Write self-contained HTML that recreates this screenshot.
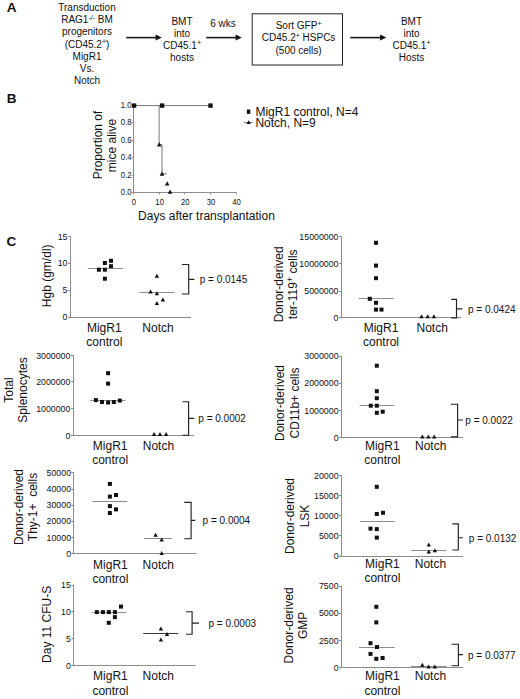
<!DOCTYPE html>
<html><head><meta charset="utf-8"><title>Figure</title>
<style>
html,body{margin:0;padding:0;background:#fff;}
body{width:520px;height:699px;overflow:hidden;}
svg{display:block;font-family:"Liberation Sans",sans-serif;}
svg text{fill:#111;}
</style></head>
<body>
<svg width="520" height="699" viewBox="0 0 520 699">
<rect width="520" height="699" fill="#fff"/>
<text x="6.80" y="12.20" font-size="13.5" text-anchor="start" font-weight="bold" >A</text>
<text x="87.00" y="11.20" font-size="10" text-anchor="middle" font-weight="normal" >Transduction</text>
<text x="87.00" y="23.30" font-size="10" text-anchor="middle" font-weight="normal" >RAG1<tspan font-size="7" dy="-3.6">-/-</tspan><tspan dy="3.6"> BM</tspan></text>
<text x="87.00" y="35.40" font-size="10" text-anchor="middle" font-weight="normal" >progenitors</text>
<text x="87.00" y="47.50" font-size="10" text-anchor="middle" font-weight="normal" >(CD45.2<tspan font-size="7" dy="-3.6">+</tspan><tspan dy="3.6">)</tspan></text>
<text x="87.00" y="59.60" font-size="10" text-anchor="middle" font-weight="normal" >MigR1</text>
<text x="87.00" y="71.70" font-size="10" text-anchor="middle" font-weight="normal" >Vs.</text>
<text x="87.00" y="83.80" font-size="10" text-anchor="middle" font-weight="normal" >Notch</text>
<line x1="126.30" y1="37.60" x2="156.80" y2="37.60" stroke="#1a1a1a" stroke-width="1.6"/>
<path d="M155.60 34.60 L161.80 37.60 L155.60 40.60 Z" fill="#111"/>
<text x="182.00" y="24.60" font-size="10" text-anchor="middle" font-weight="normal" >BMT</text>
<text x="182.00" y="36.60" font-size="10" text-anchor="middle" font-weight="normal" >into</text>
<text x="182.00" y="48.60" font-size="10" text-anchor="middle" font-weight="normal" >CD45.1<tspan font-size="7" dy="-3.6">+</tspan></text>
<text x="182.00" y="60.60" font-size="10" text-anchor="middle" font-weight="normal" >hosts</text>
<text x="223.00" y="27.00" font-size="10" text-anchor="middle" font-weight="normal" >6 wks</text>
<line x1="206.30" y1="37.60" x2="236.80" y2="37.60" stroke="#1a1a1a" stroke-width="1.6"/>
<path d="M235.60 34.60 L241.80 37.60 L235.60 40.60 Z" fill="#111"/>
<rect x="252.2" y="13.8" width="90.3" height="51.2" fill="none" stroke="#222" stroke-width="1"/>
<text x="298.60" y="29.30" font-size="10" text-anchor="middle" font-weight="normal" >Sort GFP<tspan font-size="7" dy="-3.6">+</tspan></text>
<text x="298.60" y="41.40" font-size="10" text-anchor="middle" font-weight="normal" >CD45.2<tspan font-size="7" dy="-3.6">+</tspan><tspan dy="3.6"> HSPCs</tspan></text>
<text x="298.60" y="53.50" font-size="10" text-anchor="middle" font-weight="normal" >(500 cells)</text>
<line x1="350.30" y1="37.60" x2="381.30" y2="37.60" stroke="#1a1a1a" stroke-width="1.6"/>
<path d="M380.10 34.60 L386.30 37.60 L380.10 40.60 Z" fill="#111"/>
<text x="411.50" y="24.60" font-size="10" text-anchor="middle" font-weight="normal" >BMT</text>
<text x="411.50" y="36.60" font-size="10" text-anchor="middle" font-weight="normal" >into</text>
<text x="411.50" y="48.60" font-size="10" text-anchor="middle" font-weight="normal" >CD45.1<tspan font-size="7" dy="-3.6">+</tspan></text>
<text x="411.50" y="60.60" font-size="10" text-anchor="middle" font-weight="normal" >Hosts</text>
<text x="6.80" y="103.20" font-size="13.5" text-anchor="start" font-weight="bold" >B</text>
<line x1="133.50" y1="105.10" x2="133.50" y2="192.90" stroke="#8c8c8c" stroke-width="1"/>
<line x1="133.10" y1="192.50" x2="236.20" y2="192.50" stroke="#8c8c8c" stroke-width="1"/>
<line x1="131.60" y1="192.50" x2="133.60" y2="192.50" stroke="#8c8c8c" stroke-width="1"/>
<text transform="translate(131.60 194.90) scale(0.83 1)" font-size="9.3" text-anchor="end">0.0</text>
<line x1="131.60" y1="175.50" x2="133.60" y2="175.50" stroke="#8c8c8c" stroke-width="1"/>
<text transform="translate(131.60 177.54) scale(0.83 1)" font-size="9.3" text-anchor="end">0.2</text>
<line x1="131.60" y1="157.50" x2="133.60" y2="157.50" stroke="#8c8c8c" stroke-width="1"/>
<text transform="translate(131.60 160.18) scale(0.83 1)" font-size="9.3" text-anchor="end">0.4</text>
<line x1="131.60" y1="140.50" x2="133.60" y2="140.50" stroke="#8c8c8c" stroke-width="1"/>
<text transform="translate(131.60 142.82) scale(0.83 1)" font-size="9.3" text-anchor="end">0.6</text>
<line x1="131.60" y1="122.50" x2="133.60" y2="122.50" stroke="#8c8c8c" stroke-width="1"/>
<text transform="translate(131.60 125.46) scale(0.83 1)" font-size="9.3" text-anchor="end">0.8</text>
<line x1="131.60" y1="105.50" x2="133.60" y2="105.50" stroke="#8c8c8c" stroke-width="1"/>
<text transform="translate(131.60 108.10) scale(0.83 1)" font-size="9.3" text-anchor="end">1.0</text>
<line x1="133.50" y1="192.40" x2="133.50" y2="194.40" stroke="#8c8c8c" stroke-width="1"/>
<text transform="translate(134.00 204.80) scale(0.83 1)" font-size="9.3" text-anchor="middle">0</text>
<line x1="159.50" y1="192.40" x2="159.50" y2="194.40" stroke="#8c8c8c" stroke-width="1"/>
<text transform="translate(159.65 204.80) scale(0.83 1)" font-size="9.3" text-anchor="middle">10</text>
<line x1="184.50" y1="192.40" x2="184.50" y2="194.40" stroke="#8c8c8c" stroke-width="1"/>
<text transform="translate(185.30 204.80) scale(0.83 1)" font-size="9.3" text-anchor="middle">20</text>
<line x1="210.50" y1="192.40" x2="210.50" y2="194.40" stroke="#8c8c8c" stroke-width="1"/>
<text transform="translate(210.95 204.80) scale(0.83 1)" font-size="9.3" text-anchor="middle">30</text>
<line x1="236.50" y1="192.40" x2="236.50" y2="194.40" stroke="#8c8c8c" stroke-width="1"/>
<text transform="translate(236.60 204.80) scale(0.83 1)" font-size="9.3" text-anchor="middle">40</text>
<text x="138.10" y="219.70" font-size="12" text-anchor="start" font-weight="normal" >Days after transplantation</text>
<text transform="translate(102.0 145.0) rotate(-90)" font-size="12" text-anchor="middle">Proportion of</text>
<text transform="translate(116.4 145.5) rotate(-90)" font-size="12" text-anchor="middle">mice alive</text>
<path d="M133.6 105.60 H210.55" stroke="#777" stroke-width="1" fill="none"/>
<path d="M159.1 105.60 V144.5 H162.0 V173.8 H167.0" stroke="#777" stroke-width="1" fill="none"/>
<rect x="131.90" y="103.40" width="4.4" height="4.4" fill="#111"/>
<rect x="159.90" y="103.40" width="4.4" height="4.4" fill="#111"/>
<rect x="208.30" y="103.40" width="4.4" height="4.4" fill="#111"/>
<path d="M156.90 146.40 L159.20 142.20 L161.50 146.40 Z" fill="#111"/>
<path d="M159.70 175.70 L162.00 171.50 L164.30 175.70 Z" fill="#111"/>
<path d="M164.90 185.40 L167.20 181.20 L169.50 185.40 Z" fill="#111"/>
<path d="M167.70 193.70 L170.00 189.50 L172.30 193.70 Z" fill="#111"/>
<rect x="246.9" y="109.5" width="3.4" height="4.4" fill="#111"/>
<text x="255.40" y="115.50" font-size="12" text-anchor="start" font-weight="normal" >MigR1 control, N=4</text>
<line x1="243.80" y1="122.50" x2="252.60" y2="122.50" stroke="#777" stroke-width="1"/>
<path d="M246.50 124.10 L248.60 120.30 L250.70 124.10 Z" fill="#111"/>
<text x="255.40" y="126.60" font-size="12" text-anchor="start" font-weight="normal" >Notch, N=9</text>
<text x="6.50" y="245.70" font-size="13.5" text-anchor="start" font-weight="bold" >C</text>
<line x1="70.50" y1="236.00" x2="70.50" y2="317.70" stroke="#8c8c8c" stroke-width="1"/>
<line x1="69.70" y1="317.50" x2="191.00" y2="317.50" stroke="#8c8c8c" stroke-width="1"/>
<line x1="68.00" y1="317.50" x2="70.20" y2="317.50" stroke="#8c8c8c" stroke-width="1"/>
<text x="67.50" y="320.30" font-size="8.8" text-anchor="end" font-weight="normal" >0</text>
<line x1="68.00" y1="290.50" x2="70.20" y2="290.50" stroke="#8c8c8c" stroke-width="1"/>
<text x="67.50" y="293.20" font-size="8.8" text-anchor="end" font-weight="normal" >5</text>
<line x1="68.00" y1="263.50" x2="70.20" y2="263.50" stroke="#8c8c8c" stroke-width="1"/>
<text x="67.50" y="266.30" font-size="8.8" text-anchor="end" font-weight="normal" >10</text>
<line x1="68.00" y1="236.50" x2="70.20" y2="236.50" stroke="#8c8c8c" stroke-width="1"/>
<text x="67.50" y="239.60" font-size="8.8" text-anchor="end" font-weight="normal" >15</text>
<text transform="translate(51.00 275.80) rotate(-90)" font-size="12" text-anchor="middle">Hgb (gm/dl)</text>
<line x1="87.90" y1="268.50" x2="123.00" y2="268.50" stroke="#8c8c8c" stroke-width="1"/>
<line x1="139.30" y1="292.50" x2="174.20" y2="292.50" stroke="#8c8c8c" stroke-width="1"/>
<rect x="96.90" y="267.70" width="4.0" height="4.0" fill="#111"/>
<rect x="102.90" y="261.00" width="4.0" height="4.0" fill="#111"/>
<rect x="102.90" y="267.70" width="4.0" height="4.0" fill="#111"/>
<rect x="109.00" y="258.80" width="4.0" height="4.0" fill="#111"/>
<rect x="109.00" y="264.20" width="4.0" height="4.0" fill="#111"/>
<rect x="102.90" y="276.70" width="4.0" height="4.0" fill="#111"/>
<path d="M154.70 277.80 L156.90 273.80 L159.10 277.80 Z" fill="#111"/>
<path d="M148.40 293.40 L150.60 289.40 L152.80 293.40 Z" fill="#111"/>
<path d="M154.70 295.30 L156.90 291.30 L159.10 295.30 Z" fill="#111"/>
<path d="M160.70 301.50 L162.90 297.50 L165.10 301.50 Z" fill="#111"/>
<path d="M154.70 304.90 L156.90 300.90 L159.10 304.90 Z" fill="#111"/>
<path d="M181.90 264.50 H188.70 V294.00 H181.90 M188.70 279.30 H194.40" stroke="#222" stroke-width="1.15" fill="none"/>
<text x="199.70" y="283.30" font-size="10" text-anchor="start" font-weight="normal" >p = 0.0145</text>
<text x="104.30" y="332.00" font-size="12" text-anchor="middle" font-weight="normal" >MigR1</text>
<text x="104.30" y="346.30" font-size="12" text-anchor="middle" font-weight="normal" >control</text>
<text x="158.00" y="332.00" font-size="12" text-anchor="middle" font-weight="normal" >Notch</text>
<line x1="73.50" y1="355.00" x2="73.50" y2="436.10" stroke="#8c8c8c" stroke-width="1"/>
<line x1="72.60" y1="435.50" x2="194.20" y2="435.50" stroke="#8c8c8c" stroke-width="1"/>
<line x1="70.90" y1="435.50" x2="73.10" y2="435.50" stroke="#8c8c8c" stroke-width="1"/>
<text x="70.40" y="438.70" font-size="8.8" text-anchor="end" font-weight="normal" >0</text>
<line x1="70.90" y1="408.50" x2="73.10" y2="408.50" stroke="#8c8c8c" stroke-width="1"/>
<text x="70.40" y="411.50" font-size="8.8" text-anchor="end" font-weight="normal" >1000000</text>
<line x1="70.90" y1="381.50" x2="73.10" y2="381.50" stroke="#8c8c8c" stroke-width="1"/>
<text x="70.40" y="385.00" font-size="8.8" text-anchor="end" font-weight="normal" >2000000</text>
<line x1="70.90" y1="355.50" x2="73.10" y2="355.50" stroke="#8c8c8c" stroke-width="1"/>
<text x="70.40" y="358.60" font-size="8.8" text-anchor="end" font-weight="normal" >3000000</text>
<text transform="translate(13.10 390.00) rotate(-90)" font-size="12" text-anchor="middle">Total</text>
<text transform="translate(26.90 390.00) rotate(-90)" font-size="12" text-anchor="middle">Splenocytes</text>
<line x1="90.30" y1="400.50" x2="125.40" y2="400.50" stroke="#8c8c8c" stroke-width="1"/>
<line x1="142.40" y1="435.50" x2="178.00" y2="435.50" stroke="#8c8c8c" stroke-width="1"/>
<rect x="106.10" y="371.20" width="4.0" height="4.0" fill="#111"/>
<rect x="106.10" y="381.60" width="4.0" height="4.0" fill="#111"/>
<rect x="93.90" y="398.10" width="4.0" height="4.0" fill="#111"/>
<rect x="100.00" y="400.00" width="4.0" height="4.0" fill="#111"/>
<rect x="106.10" y="400.50" width="4.0" height="4.0" fill="#111"/>
<rect x="111.80" y="400.00" width="4.0" height="4.0" fill="#111"/>
<rect x="117.80" y="398.60" width="4.0" height="4.0" fill="#111"/>
<path d="M151.90 436.00 L154.10 432.00 L156.30 436.00 Z" fill="#111"/>
<path d="M157.80 436.00 L160.00 432.00 L162.20 436.00 Z" fill="#111"/>
<path d="M163.90 436.00 L166.10 432.00 L168.30 436.00 Z" fill="#111"/>
<path d="M182.40 401.70 H188.60 V435.20 H182.40 M188.60 418.30 H194.20" stroke="#222" stroke-width="1.15" fill="none"/>
<text x="198.30" y="422.30" font-size="10" text-anchor="start" font-weight="normal" >p = 0.0002</text>
<text x="110.20" y="450.10" font-size="12" text-anchor="middle" font-weight="normal" >MigR1</text>
<text x="110.20" y="464.00" font-size="12" text-anchor="middle" font-weight="normal" >control</text>
<text x="158.40" y="450.10" font-size="12" text-anchor="middle" font-weight="normal" >Notch</text>
<line x1="73.50" y1="472.00" x2="73.50" y2="554.10" stroke="#8c8c8c" stroke-width="1"/>
<line x1="73.25" y1="553.50" x2="196.50" y2="553.50" stroke="#8c8c8c" stroke-width="1"/>
<line x1="71.55" y1="553.50" x2="73.75" y2="553.50" stroke="#8c8c8c" stroke-width="1"/>
<text x="71.05" y="556.70" font-size="8.8" text-anchor="end" font-weight="normal" >0</text>
<line x1="71.55" y1="537.50" x2="73.75" y2="537.50" stroke="#8c8c8c" stroke-width="1"/>
<text x="71.05" y="540.60" font-size="8.8" text-anchor="end" font-weight="normal" >10000</text>
<line x1="71.55" y1="521.50" x2="73.75" y2="521.50" stroke="#8c8c8c" stroke-width="1"/>
<text x="71.05" y="524.35" font-size="8.8" text-anchor="end" font-weight="normal" >20000</text>
<line x1="71.55" y1="505.50" x2="73.75" y2="505.50" stroke="#8c8c8c" stroke-width="1"/>
<text x="71.05" y="508.40" font-size="8.8" text-anchor="end" font-weight="normal" >30000</text>
<line x1="71.55" y1="489.50" x2="73.75" y2="489.50" stroke="#8c8c8c" stroke-width="1"/>
<text x="71.05" y="492.30" font-size="8.8" text-anchor="end" font-weight="normal" >40000</text>
<line x1="71.55" y1="472.50" x2="73.75" y2="472.50" stroke="#8c8c8c" stroke-width="1"/>
<text x="71.05" y="475.60" font-size="8.8" text-anchor="end" font-weight="normal" >50000</text>
<text transform="translate(22.80 507.00) rotate(-90)" font-size="12" text-anchor="middle">Donor-derived</text>
<text transform="translate(37.00 507.00) rotate(-90)" font-size="12" text-anchor="middle">Thy-1+&#160;&#160;cells</text>
<line x1="92.60" y1="501.50" x2="127.40" y2="501.50" stroke="#8c8c8c" stroke-width="1"/>
<line x1="144.00" y1="538.50" x2="171.70" y2="538.50" stroke="#8c8c8c" stroke-width="1"/>
<rect x="107.90" y="481.90" width="4.0" height="4.0" fill="#111"/>
<rect x="107.90" y="494.60" width="4.0" height="4.0" fill="#111"/>
<rect x="114.00" y="493.00" width="4.0" height="4.0" fill="#111"/>
<rect x="107.90" y="504.10" width="4.0" height="4.0" fill="#111"/>
<rect x="114.00" y="507.40" width="4.0" height="4.0" fill="#111"/>
<rect x="107.90" y="511.00" width="4.0" height="4.0" fill="#111"/>
<path d="M153.40 536.70 L155.60 532.70 L157.80 536.70 Z" fill="#111"/>
<path d="M159.50 541.40 L161.70 537.40 L163.90 541.40 Z" fill="#111"/>
<path d="M159.50 555.00 L161.70 551.00 L163.90 555.00 Z" fill="#111"/>
<path d="M184.20 502.40 H191.10 V538.70 H184.20 M191.10 520.40 H195.30" stroke="#222" stroke-width="1.15" fill="none"/>
<text x="202.60" y="524.40" font-size="10" text-anchor="start" font-weight="normal" >p = 0.0004</text>
<text x="110.40" y="568.50" font-size="12" text-anchor="middle" font-weight="normal" >MigR1</text>
<text x="110.40" y="582.90" font-size="12" text-anchor="middle" font-weight="normal" >control</text>
<text x="158.30" y="568.50" font-size="12" text-anchor="middle" font-weight="normal" >Notch</text>
<line x1="73.50" y1="584.50" x2="73.50" y2="666.00" stroke="#8c8c8c" stroke-width="1"/>
<line x1="73.10" y1="665.50" x2="195.60" y2="665.50" stroke="#8c8c8c" stroke-width="1"/>
<line x1="71.40" y1="665.50" x2="73.60" y2="665.50" stroke="#8c8c8c" stroke-width="1"/>
<text x="70.90" y="668.60" font-size="8.8" text-anchor="end" font-weight="normal" >0</text>
<line x1="71.40" y1="638.50" x2="73.60" y2="638.50" stroke="#8c8c8c" stroke-width="1"/>
<text x="70.90" y="641.85" font-size="8.8" text-anchor="end" font-weight="normal" >5</text>
<line x1="71.40" y1="611.50" x2="73.60" y2="611.50" stroke="#8c8c8c" stroke-width="1"/>
<text x="70.90" y="615.00" font-size="8.8" text-anchor="end" font-weight="normal" >10</text>
<line x1="71.40" y1="585.50" x2="73.60" y2="585.50" stroke="#8c8c8c" stroke-width="1"/>
<text x="70.90" y="588.10" font-size="8.8" text-anchor="end" font-weight="normal" >15</text>
<text transform="translate(51.10 624.40) rotate(-90)" font-size="12" text-anchor="middle">Day 11 CFU-S</text>
<line x1="92.00" y1="612.50" x2="126.40" y2="612.50" stroke="#8c8c8c" stroke-width="1"/>
<line x1="143.20" y1="633.50" x2="178.40" y2="633.50" stroke="#3a3a3a" stroke-width="1"/>
<rect x="94.80" y="610.10" width="4.0" height="4.0" fill="#111"/>
<rect x="100.90" y="610.10" width="4.0" height="4.0" fill="#111"/>
<rect x="106.80" y="610.10" width="4.0" height="4.0" fill="#111"/>
<rect x="112.90" y="610.10" width="4.0" height="4.0" fill="#111"/>
<rect x="112.90" y="615.10" width="4.0" height="4.0" fill="#111"/>
<rect x="106.80" y="620.80" width="4.0" height="4.0" fill="#111"/>
<rect x="119.00" y="604.60" width="4.0" height="4.0" fill="#111"/>
<path d="M158.70 630.40 L160.90 626.40 L163.10 630.40 Z" fill="#111"/>
<path d="M164.80 636.00 L167.00 632.00 L169.20 636.00 Z" fill="#111"/>
<path d="M158.70 641.40 L160.90 637.40 L163.10 641.40 Z" fill="#111"/>
<path d="M186.00 611.70 H192.10 V634.20 H186.00 M192.10 623.10 H199.00" stroke="#222" stroke-width="1.15" fill="none"/>
<text x="208.50" y="627.10" font-size="10" text-anchor="start" font-weight="normal" >p = 0.0003</text>
<text x="110.40" y="680.40" font-size="12" text-anchor="middle" font-weight="normal" >MigR1</text>
<text x="110.40" y="694.90" font-size="12" text-anchor="middle" font-weight="normal" >control</text>
<text x="158.30" y="680.40" font-size="12" text-anchor="middle" font-weight="normal" >Notch</text>
<line x1="341.50" y1="236.25" x2="341.50" y2="318.40" stroke="#8c8c8c" stroke-width="1"/>
<line x1="340.70" y1="317.50" x2="461.00" y2="317.50" stroke="#8c8c8c" stroke-width="1"/>
<line x1="339.00" y1="317.50" x2="341.20" y2="317.50" stroke="#8c8c8c" stroke-width="1"/>
<text x="338.50" y="321.00" font-size="8.8" text-anchor="end" font-weight="normal" >0</text>
<line x1="339.00" y1="291.50" x2="341.20" y2="291.50" stroke="#8c8c8c" stroke-width="1"/>
<text x="338.50" y="294.35" font-size="8.8" text-anchor="end" font-weight="normal" >5000000</text>
<line x1="339.00" y1="263.50" x2="341.20" y2="263.50" stroke="#8c8c8c" stroke-width="1"/>
<text x="338.50" y="266.85" font-size="8.8" text-anchor="end" font-weight="normal" >10000000</text>
<line x1="339.00" y1="236.50" x2="341.20" y2="236.50" stroke="#8c8c8c" stroke-width="1"/>
<text x="338.50" y="239.85" font-size="8.8" text-anchor="end" font-weight="normal" >15000000</text>
<text transform="translate(282.70 284.30) rotate(-90)" font-size="12" text-anchor="middle">Donor-derived</text>
<text transform="translate(296.70 284.30) rotate(-90)" font-size="12" text-anchor="middle">ter-119<tspan font-size="9" dy="-4.2">+</tspan><tspan dy="4.2"> cells</tspan></text>
<line x1="358.50" y1="298.50" x2="393.80" y2="298.50" stroke="#8c8c8c" stroke-width="1"/>
<line x1="410.00" y1="317.50" x2="446.00" y2="317.50" stroke="#8c8c8c" stroke-width="1"/>
<rect x="374.00" y="240.80" width="4.0" height="4.0" fill="#111"/>
<rect x="374.00" y="263.60" width="4.0" height="4.0" fill="#111"/>
<rect x="374.00" y="276.20" width="4.0" height="4.0" fill="#111"/>
<rect x="367.80" y="296.80" width="4.0" height="4.0" fill="#111"/>
<rect x="374.00" y="300.80" width="4.0" height="4.0" fill="#111"/>
<rect x="374.00" y="307.60" width="4.0" height="4.0" fill="#111"/>
<rect x="379.50" y="307.60" width="4.0" height="4.0" fill="#111"/>
<path d="M419.30 318.20 L421.50 314.20 L423.70 318.20 Z" fill="#111"/>
<path d="M425.50 318.20 L427.70 314.20 L429.90 318.20 Z" fill="#111"/>
<path d="M431.70 318.20 L433.90 314.20 L436.10 318.20 Z" fill="#111"/>
<path d="M451.20 299.30 H456.50 V317.80 H451.20 M456.50 308.80 H462.30" stroke="#222" stroke-width="1.15" fill="none"/>
<text x="468.00" y="312.80" font-size="10" text-anchor="start" font-weight="normal" >p = 0.0424</text>
<text x="381.00" y="331.90" font-size="12" text-anchor="middle" font-weight="normal" >MigR1</text>
<text x="381.00" y="346.10" font-size="12" text-anchor="middle" font-weight="normal" >control</text>
<text x="432.20" y="331.90" font-size="12" text-anchor="middle" font-weight="normal" >Notch</text>
<line x1="341.50" y1="355.75" x2="341.50" y2="437.90" stroke="#8c8c8c" stroke-width="1"/>
<line x1="340.75" y1="437.50" x2="462.90" y2="437.50" stroke="#8c8c8c" stroke-width="1"/>
<line x1="339.05" y1="437.50" x2="341.25" y2="437.50" stroke="#8c8c8c" stroke-width="1"/>
<text x="338.55" y="440.50" font-size="8.8" text-anchor="end" font-weight="normal" >0</text>
<line x1="339.05" y1="410.50" x2="341.25" y2="410.50" stroke="#8c8c8c" stroke-width="1"/>
<text x="338.55" y="413.60" font-size="8.8" text-anchor="end" font-weight="normal" >1000000</text>
<line x1="339.05" y1="383.50" x2="341.25" y2="383.50" stroke="#8c8c8c" stroke-width="1"/>
<text x="338.55" y="386.35" font-size="8.8" text-anchor="end" font-weight="normal" >2000000</text>
<line x1="339.05" y1="356.50" x2="341.25" y2="356.50" stroke="#8c8c8c" stroke-width="1"/>
<text x="338.55" y="359.35" font-size="8.8" text-anchor="end" font-weight="normal" >3000000</text>
<text transform="translate(283.70 403.00) rotate(-90)" font-size="12" text-anchor="middle">Donor-derived</text>
<text transform="translate(298.60 403.00) rotate(-90)" font-size="12" text-anchor="middle">CD11b+ cells</text>
<line x1="359.60" y1="405.50" x2="394.20" y2="405.50" stroke="#8c8c8c" stroke-width="1"/>
<line x1="411.00" y1="437.50" x2="437.00" y2="437.50" stroke="#8c8c8c" stroke-width="1"/>
<rect x="374.80" y="363.70" width="4.0" height="4.0" fill="#111"/>
<rect x="374.80" y="389.20" width="4.0" height="4.0" fill="#111"/>
<rect x="374.80" y="396.20" width="4.0" height="4.0" fill="#111"/>
<rect x="368.80" y="403.70" width="4.0" height="4.0" fill="#111"/>
<rect x="374.80" y="403.70" width="4.0" height="4.0" fill="#111"/>
<rect x="374.80" y="410.80" width="4.0" height="4.0" fill="#111"/>
<rect x="380.70" y="409.70" width="4.0" height="4.0" fill="#111"/>
<path d="M420.20 438.40 L422.40 434.40 L424.60 438.40 Z" fill="#111"/>
<path d="M426.10 438.40 L428.30 434.40 L430.50 438.40 Z" fill="#111"/>
<path d="M432.00 438.40 L434.20 434.40 L436.40 438.40 Z" fill="#111"/>
<path d="M450.80 404.20 H457.60 V436.80 H450.80 M457.60 420.00 H462.90" stroke="#222" stroke-width="1.15" fill="none"/>
<text x="465.30" y="424.00" font-size="10" text-anchor="start" font-weight="normal" >p = 0.0022</text>
<text x="382.30" y="450.00" font-size="12" text-anchor="middle" font-weight="normal" >MigR1</text>
<text x="382.30" y="464.00" font-size="12" text-anchor="middle" font-weight="normal" >control</text>
<text x="430.70" y="450.00" font-size="12" text-anchor="middle" font-weight="normal" >Notch</text>
<line x1="341.50" y1="475.00" x2="341.50" y2="556.60" stroke="#8c8c8c" stroke-width="1"/>
<line x1="340.75" y1="556.50" x2="462.90" y2="556.50" stroke="#8c8c8c" stroke-width="1"/>
<line x1="339.05" y1="556.50" x2="341.25" y2="556.50" stroke="#8c8c8c" stroke-width="1"/>
<text x="338.55" y="559.20" font-size="8.8" text-anchor="end" font-weight="normal" >0</text>
<line x1="339.05" y1="535.50" x2="341.25" y2="535.50" stroke="#8c8c8c" stroke-width="1"/>
<text x="338.55" y="538.85" font-size="8.8" text-anchor="end" font-weight="normal" >5000</text>
<line x1="339.05" y1="515.50" x2="341.25" y2="515.50" stroke="#8c8c8c" stroke-width="1"/>
<text x="338.55" y="518.85" font-size="8.8" text-anchor="end" font-weight="normal" >10000</text>
<line x1="339.05" y1="495.50" x2="341.25" y2="495.50" stroke="#8c8c8c" stroke-width="1"/>
<text x="338.55" y="498.60" font-size="8.8" text-anchor="end" font-weight="normal" >15000</text>
<line x1="339.05" y1="475.50" x2="341.25" y2="475.50" stroke="#8c8c8c" stroke-width="1"/>
<text x="338.55" y="478.60" font-size="8.8" text-anchor="end" font-weight="normal" >20000</text>
<text transform="translate(293.70 516.00) rotate(-90)" font-size="12" text-anchor="middle">Donor-derived</text>
<text transform="translate(308.70 516.00) rotate(-90)" font-size="12" text-anchor="middle">LSK</text>
<line x1="360.00" y1="521.50" x2="394.70" y2="521.50" stroke="#8c8c8c" stroke-width="1"/>
<line x1="411.30" y1="550.50" x2="446.00" y2="550.50" stroke="#8c8c8c" stroke-width="1"/>
<rect x="374.80" y="484.80" width="4.0" height="4.0" fill="#111"/>
<rect x="374.80" y="512.00" width="4.0" height="4.0" fill="#111"/>
<rect x="381.00" y="510.80" width="4.0" height="4.0" fill="#111"/>
<rect x="368.50" y="526.60" width="4.0" height="4.0" fill="#111"/>
<rect x="374.80" y="527.10" width="4.0" height="4.0" fill="#111"/>
<rect x="374.80" y="535.60" width="4.0" height="4.0" fill="#111"/>
<path d="M426.60 546.40 L428.80 542.40 L431.00 546.40 Z" fill="#111"/>
<path d="M426.60 553.50 L428.80 549.50 L431.00 553.50 Z" fill="#111"/>
<path d="M432.70 552.30 L434.90 548.30 L437.10 552.30 Z" fill="#111"/>
<path d="M452.30 523.80 H458.30 V550.00 H452.30 M458.30 537.70 H462.90" stroke="#222" stroke-width="1.15" fill="none"/>
<text x="468.80" y="541.70" font-size="10" text-anchor="start" font-weight="normal" >p = 0.0132</text>
<text x="382.40" y="568.10" font-size="12" text-anchor="middle" font-weight="normal" >MigR1</text>
<text x="382.40" y="582.30" font-size="12" text-anchor="middle" font-weight="normal" >control</text>
<text x="430.40" y="568.10" font-size="12" text-anchor="middle" font-weight="normal" >Notch</text>
<line x1="341.50" y1="585.75" x2="341.50" y2="668.00" stroke="#8c8c8c" stroke-width="1"/>
<line x1="340.75" y1="667.50" x2="462.90" y2="667.50" stroke="#8c8c8c" stroke-width="1"/>
<line x1="339.05" y1="667.50" x2="341.25" y2="667.50" stroke="#8c8c8c" stroke-width="1"/>
<text x="338.55" y="670.60" font-size="8.8" text-anchor="end" font-weight="normal" >0</text>
<line x1="339.05" y1="640.50" x2="341.25" y2="640.50" stroke="#8c8c8c" stroke-width="1"/>
<text x="338.55" y="643.60" font-size="8.8" text-anchor="end" font-weight="normal" >2500</text>
<line x1="339.05" y1="613.50" x2="341.25" y2="613.50" stroke="#8c8c8c" stroke-width="1"/>
<text x="338.55" y="616.35" font-size="8.8" text-anchor="end" font-weight="normal" >5000</text>
<line x1="339.05" y1="586.50" x2="341.25" y2="586.50" stroke="#8c8c8c" stroke-width="1"/>
<text x="338.55" y="589.35" font-size="8.8" text-anchor="end" font-weight="normal" >7500</text>
<text transform="translate(292.90 625.40) rotate(-90)" font-size="12" text-anchor="middle">Donor-derived</text>
<text transform="translate(307.10 625.40) rotate(-90)" font-size="12" text-anchor="middle">GMP</text>
<line x1="359.00" y1="647.50" x2="394.70" y2="647.50" stroke="#8c8c8c" stroke-width="1"/>
<line x1="411.00" y1="666.50" x2="446.60" y2="666.50" stroke="#8c8c8c" stroke-width="1"/>
<rect x="374.30" y="604.80" width="4.0" height="4.0" fill="#111"/>
<rect x="374.30" y="620.40" width="4.0" height="4.0" fill="#111"/>
<rect x="368.50" y="641.20" width="4.0" height="4.0" fill="#111"/>
<rect x="375.00" y="645.00" width="4.0" height="4.0" fill="#111"/>
<rect x="368.50" y="651.90" width="4.0" height="4.0" fill="#111"/>
<rect x="374.30" y="656.80" width="4.0" height="4.0" fill="#111"/>
<rect x="380.60" y="656.00" width="4.0" height="4.0" fill="#111"/>
<path d="M420.10 666.80 L422.30 662.80 L424.50 666.80 Z" fill="#111"/>
<path d="M426.40 668.50 L428.60 664.50 L430.80 668.50 Z" fill="#111"/>
<path d="M432.60 668.40 L434.80 664.40 L437.00 668.40 Z" fill="#111"/>
<path d="M451.50 644.20 H458.40 V665.70 H451.50 M458.40 654.60 H462.90" stroke="#222" stroke-width="1.15" fill="none"/>
<text x="468.00" y="658.60" font-size="10" text-anchor="start" font-weight="normal" >p = 0.0377</text>
<text x="382.40" y="680.00" font-size="12" text-anchor="middle" font-weight="normal" >MigR1</text>
<text x="382.40" y="694.80" font-size="12" text-anchor="middle" font-weight="normal" >control</text>
<text x="430.40" y="680.00" font-size="12" text-anchor="middle" font-weight="normal" >Notch</text>
</svg>
</body></html>
